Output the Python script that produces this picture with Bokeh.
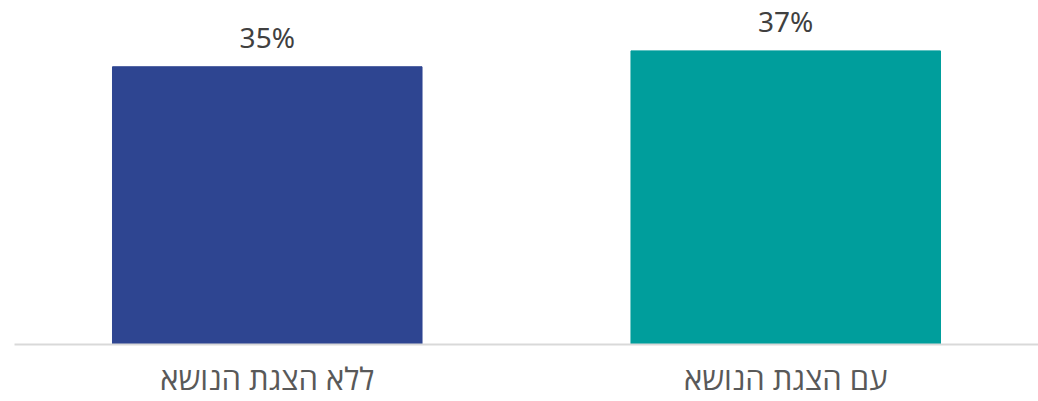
from bokeh.plotting import figure
from bokeh.models import ColumnDataSource, Range1d, FactorRange
from bokeh.core.properties import value
from bokeh.embed import file_html
from bokeh.resources import INLINE

categories = ["ללא הצגת הנושא", "עם הצגת הנושא"]
values = [35, 37]
colors = ["#2E4591", "#009E9C"]
labels = ["35%", "37%"]

source = ColumnDataSource(dict(cat=categories, val=values, color=colors, label=labels))

p = figure(
    width=1038, height=401,
    x_range=FactorRange(*categories, range_padding=-0.0125),
    y_range=Range1d(0, 43.35),
    output_backend="svg", toolbar_location=None,
    min_border_left=14, min_border_right=0, min_border_top=0, min_border_bottom=0,
)
p.vbar(x="cat", top="val", width=0.597, color="color", source=source)
p.text(x="cat", y="val", text="label", source=source,
       text_align="center", text_baseline="bottom", y_offset=-11,
       text_font=value("Noto Sans"), text_font_size="28px", text_color="#404040")

p.yaxis.visible = False
p.grid.visible = False
p.outline_line_color = None
p.xaxis.axis_line_color = "#D9D9D9"
p.xaxis.axis_line_width = 2
p.xaxis.major_tick_line_color = None
p.xaxis.minor_tick_line_color = None
p.xaxis.major_label_text_font = "Open Sans"
p.xaxis.major_label_text_font_size = "31px"
p.xaxis.major_label_text_color = "#595959"
p.xaxis.major_label_standoff = 6
p.background_fill_color = "white"
p.border_fill_color = "white"

open("out.html", "w").write(file_html(p, INLINE))
